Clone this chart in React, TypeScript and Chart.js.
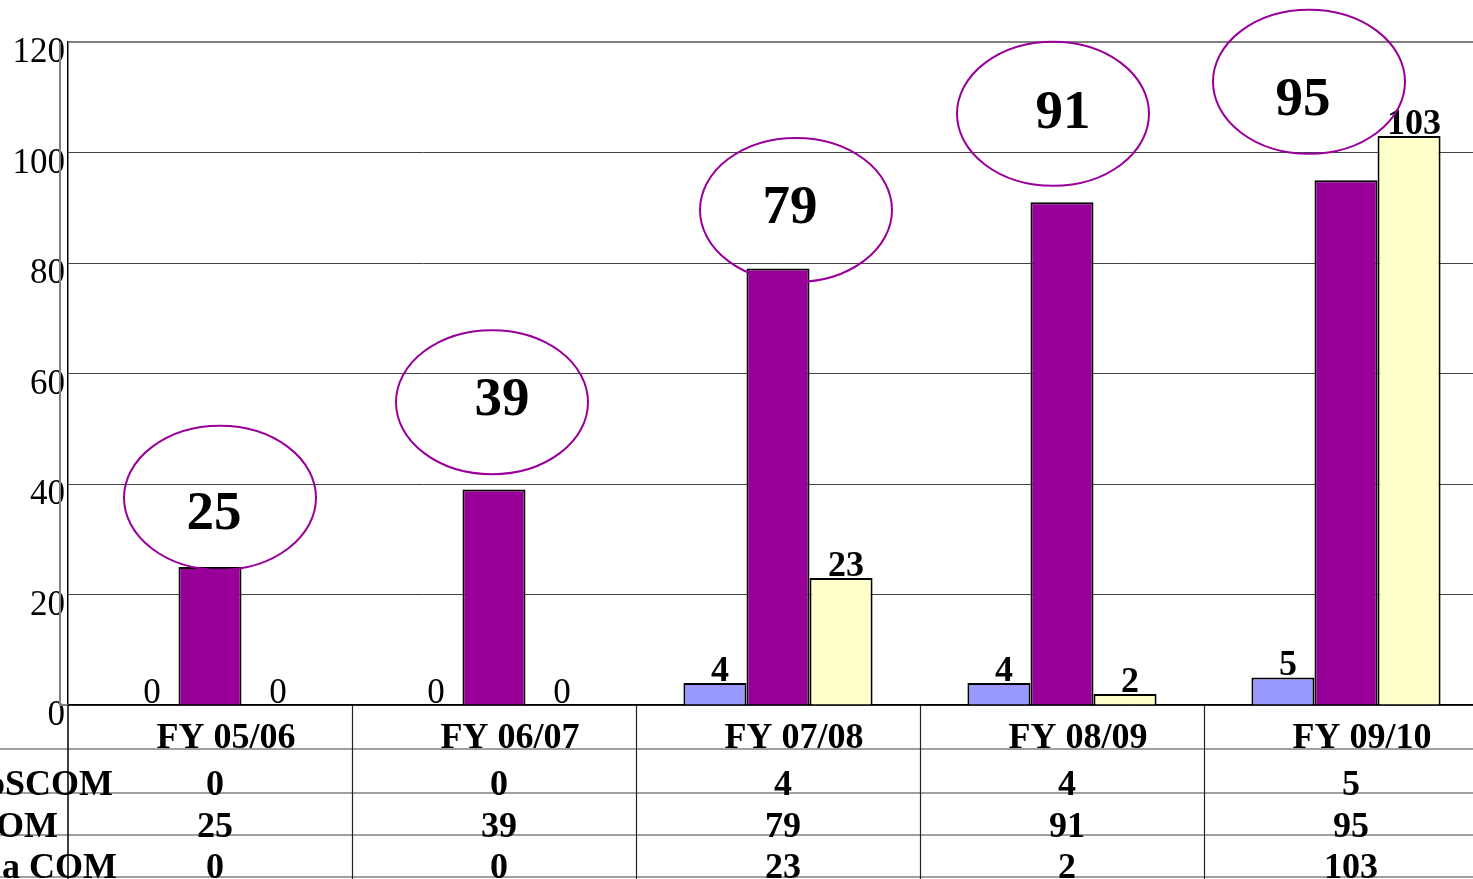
import React, { useEffect, useRef } from 'react';
import { Chart, registerables } from 'chart.js';

Chart.register(...registerables);

const categories = ['FY 05/06', 'FY 06/07', 'FY 07/08', 'FY 08/09', 'FY 09/10'];
const seriesNames = ['oSCOM', 'OM', 'a COM'];
const seriesA = [0, 0, 4, 4, 5];
const seriesB = [25, 39, 79, 91, 95];
const seriesC = [0, 0, 23, 2, 103];
const seriesColors = ['#9999FF', '#990099', '#FFFFCC'];
const yMin = 0;
const yMax = 120;
const yStep = 20;

// callout ellipses around the OM totals (data-unit centres, px offsets from category centre)
const ellipseValue = [37.5, 54.8, 89.6, 107, 112.8];
const ellipseDx = [10, -2, 18, -9, -37];
const calloutTextValue = [34.5, 55.0, 89.8, 107.0, 109.4];
const calloutTextDx = [4, 8, 12, 1, -43];

const SERIF = "'Liberation Serif', 'Times New Roman', serif";

const tablePlugin = {
  id: 'tablePlugin',
  afterDraw(chart: any) {
    const ctx = chart.ctx;
    const { left, right, top, bottom } = chart.chartArea;
    const xs = chart.scales.x;
    const ys = chart.scales.y;
    const W = chart.width;
    ctx.save();

    // back wall line (grey)
    ctx.strokeStyle = '#808080';
    ctx.lineWidth = 2;
    ctx.beginPath();
    ctx.moveTo(left - 8, top);
    ctx.lineTo(left - 8, bottom);
    ctx.moveTo(left - 8, bottom);
    ctx.lineTo(left, bottom);
    ctx.stroke();

    // table horizontal lines
    const rowLines = [bottom + 44, bottom + 88, bottom + 130, bottom + 172];
    ctx.strokeStyle = '#808080';
    ctx.lineWidth = 1.5;
    rowLines.forEach((yy) => {
      ctx.beginPath();
      ctx.moveTo(0, yy);
      ctx.lineTo(W, yy);
      ctx.stroke();
    });

    // table vertical lines
    const catW = (right - left) / categories.length;
    ctx.strokeStyle = '#000';
    ctx.lineWidth = 1.5;
    ctx.beginPath();
    ctx.moveTo(left, bottom);
    ctx.lineTo(left, chart.height);
    ctx.stroke();
    ctx.strokeStyle = '#222';
    ctx.lineWidth = 1.2;
    for (let i = 1; i < categories.length; i++) {
      const xx = Math.round(xs.getPixelForValue(i) - catW / 2) + 0.5;
      ctx.beginPath();
      ctx.moveTo(xx, bottom);
      ctx.lineTo(xx, chart.height);
      ctx.stroke();
    }

    // table rows
    const rowData = [seriesA, seriesB, seriesC];
    const rowBaselines = [bottom + 90, bottom + 132, bottom + 173];
    const rowLabelX = [-13, -4, 2];
    ctx.fillStyle = '#000';
    ctx.font = `bold 36px ${SERIF}`;
    ctx.textBaseline = 'alphabetic';
    rowData.forEach((row, r) => {
      ctx.textAlign = 'left';
      ctx.fillText(seriesNames[r], rowLabelX[r], rowBaselines[r]);
      ctx.textAlign = 'center';
      row.forEach((v, i) => {
        ctx.fillText(String(v), xs.getPixelForValue(i) + 5, rowBaselines[r]);
      });
    });

    // bar value labels
    chart.data.datasets.forEach((ds: any, di: number) => {
      if (di === 1) return;
      const meta = chart.getDatasetMeta(di);
      meta.data.forEach((bar: any, i: number) => {
        const v = ds.data[i];
        ctx.font = v === 0 ? `35px ${SERIF}` : `bold 36px ${SERIF}`;
        ctx.textAlign = 'center';
        ctx.textBaseline = 'alphabetic';
        ctx.fillText(String(v), bar.x + 5, bar.y - 2);
      });
    });

    // callout ellipses
    ctx.strokeStyle = '#990099';
    ctx.lineWidth = 2;
    seriesB.forEach((v, i) => {
      const cx = xs.getPixelForValue(i) + ellipseDx[i];
      const cy = ys.getPixelForValue(ellipseValue[i]);
      ctx.beginPath();
      ctx.ellipse(cx, cy, 96, 72, 0, 0, Math.PI * 2);
      ctx.stroke();
      ctx.font = `bold 55px ${SERIF}`;
      ctx.textAlign = 'center';
      ctx.textBaseline = 'middle';
      ctx.fillText(
        String(v),
        xs.getPixelForValue(i) + calloutTextDx[i],
        ys.getPixelForValue(calloutTextValue[i])
      );
    });

    ctx.restore();
  },
};

export default function App() {
  const ref = useRef<HTMLCanvasElement | null>(null);

  useEffect(() => {
    document.body.style.margin = '0';
    const canvas = ref.current;
    if (!canvas) return;
    const chart = new Chart(canvas, {
      type: 'bar',
      data: {
        labels: categories,
        datasets: [
          { label: seriesNames[0], data: seriesA, backgroundColor: seriesColors[0] },
          { label: seriesNames[1], data: seriesB, backgroundColor: seriesColors[1] },
          { label: seriesNames[2], data: seriesC, backgroundColor: seriesColors[2] },
        ].map((d) => ({
          ...d,
          borderColor: '#000',
          borderWidth: 2,
          barPercentage: 1,
          categoryPercentage: 0.666,
        })),
      },
      options: {
        responsive: false,
        animation: false,
        devicePixelRatio: 1,
        layout: { padding: { left: 0, right: 12, top: 42, bottom: 0 } },
        plugins: {
          legend: { display: false },
          tooltip: { enabled: false },
          title: { display: false },
        },
        scales: {
          x: {
            grid: { display: false },
            border: { color: '#000', width: 1.5 },
            ticks: {
              color: '#000',
              font: { family: SERIF, size: 36, weight: 'bold' },
              padding: 4,
              labelOffset: 16,
              maxRotation: 0,
              autoSkip: false,
            },
            afterFit: (s: any) => {
              s.height = 174;
            },
          },
          y: {
            min: yMin,
            max: yMax,
            ticks: {
              stepSize: yStep,
              color: '#000',
              font: { family: SERIF, size: 35 },
              padding: 3,
              labelOffset: 11,
            },
            grid: {
              drawTicks: false,
              color: (c: any) => (c.tick && c.tick.value === yMax ? '#808080' : '#444'),
              lineWidth: (c: any) => (c.tick && c.tick.value === yMax ? 2 : 1),
            },
            border: { color: '#000', width: 1.5 },
            afterFit: (s: any) => {
              s.width = 68;
            },
          },
        },
      },
      plugins: [tablePlugin],
    } as any);
    return () => chart.destroy();
  }, []);

  return (
    <div style={{ position: 'relative', width: 1473, height: 879, overflow: 'hidden', background: '#fff' }}>
      <canvas ref={ref} width={1500} height={879} style={{ display: 'block' }} />
    </div>
  );
}
